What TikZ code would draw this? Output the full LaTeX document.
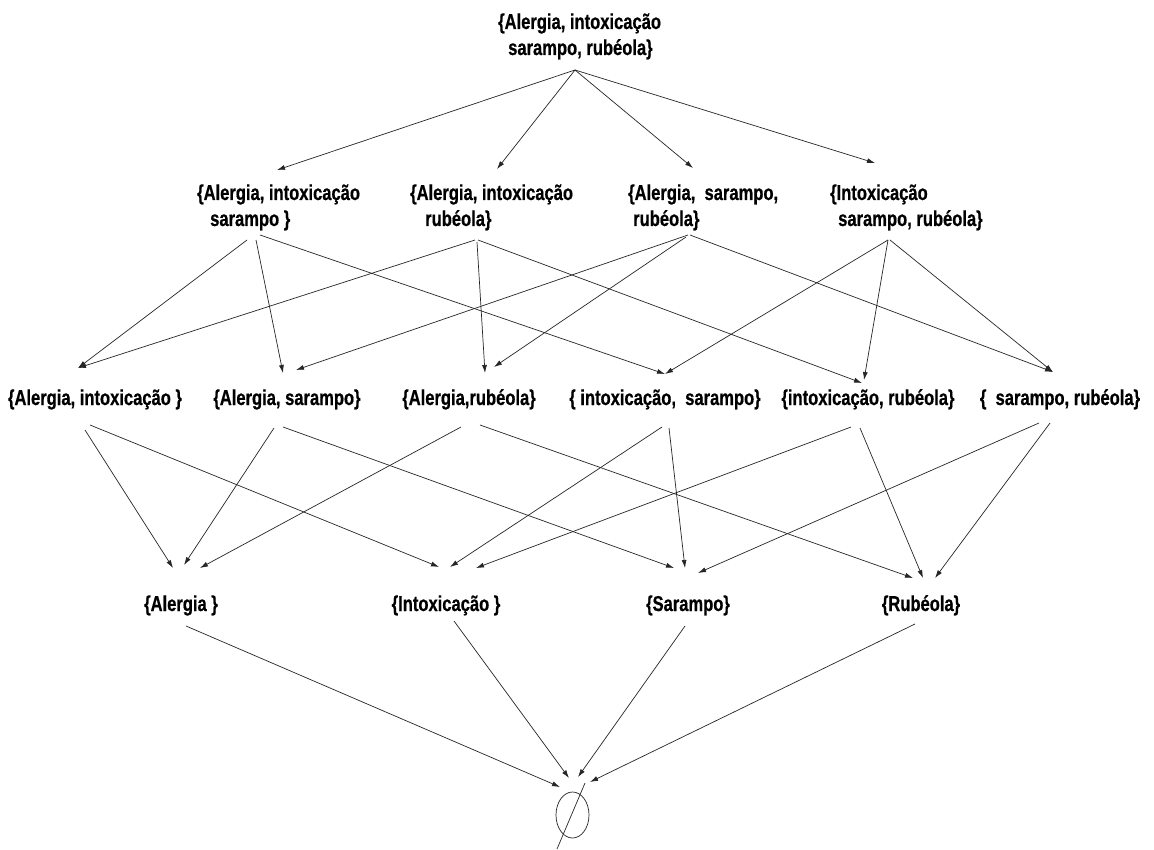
\documentclass[tikz,border=0pt]{standalone}
\usepackage{fontspec}
\setmainfont{Liberation Sans}[FakeStretch=0.77, FakeBold=0.6]
\usetikzlibrary{arrows.meta,shapes.geometric}
% two-line set label: first line, indent of the second line, second line
\newcommand\twoline[3]{\vtop{\hbox{#1}\hbox{\hspace*{#2}#3}}}
\begin{document}
\begin{tikzpicture}[x=1pt,y=-1pt,
  set/.style={inner sep=0pt, font=\fontsize{21.5}{26}\selectfont\bfseries},
  arr/.style={-{Latex[length=8pt,width=5pt]}, line width=0.7pt, draw=black!85},
  thin line/.style={line width=0.7pt, draw=black!85},
]
\fill[white] (0,0) rectangle (1154,850);
\useasboundingbox (0,0) rectangle (1154,850);

% full set
\node[set, anchor=base west] (T) at (498,29)
  {\twoline{\{Alergia, intoxicação}{10pt}{sarampo, rubéola\}}};

% three-element subsets
\node[set, anchor=base west] (AIS) at (197,200)
  {\twoline{\{Alergia, intoxicação}{13pt}{sarampo \}}};
\node[set, anchor=base west] (AIR) at (410,200)
  {\twoline{\{Alergia, intoxicação}{15pt}{rubéola\}}};
\node[set, anchor=base west] (ASR) at (628,200)
  {\twoline{\{Alergia,\ \ sarampo,}{5pt}{rubéola\}}};
\node[set, anchor=base west] (ISR) at (830,200)
  {\twoline{\{Intoxicação}{8pt}{sarampo, rubéola\}}};

% two-element subsets
\node[set, anchor=base] (AI) at (95,405)   {\{Alergia, intoxicação \}};
\node[set, anchor=base] (AS) at (287,405)  {\{Alergia, sarampo\}};
\node[set, anchor=base] (AR) at (469,405)  {\{Alergia,rubéola\}};
\node[set, anchor=base] (IS) at (665,405)  {\{ intoxicação,\ \ sarampo\}};
\node[set, anchor=base] (IR) at (868,405)  {\{intoxicação, rubéola\}};
\node[set, anchor=base] (SR) at (1060,405) {\{\ \ sarampo, rubéola\}};

% singletons
\node[set, anchor=base] (A) at (181,611) {\{Alergia \}};
\node[set, anchor=base] (I) at (446,611) {\{Intoxicação \}};
\node[set, anchor=base] (S) at (688,611) {\{Sarampo\}};
\node[set, anchor=base] (R) at (921,611) {\{Rubéola\}};

% empty set symbol
\node[ellipse, thin line, minimum width=33pt, minimum height=46pt, inner sep=0pt] (E) at (572.5,815) {};
\draw[thin line] ([shift={(12.5,-32)}]E.center) -- ([shift={(-15.5,34)}]E.center);

% full set -> three-element subsets
\draw[arr] ([shift={(77,41)}]T.base west) -- ([shift={(80,-30)}]AIS.base west);
\draw[arr] ([shift={(77,41)}]T.base west) -- ([shift={(87,-31)}]AIR.base west);
\draw[arr] ([shift={(77,41)}]T.base west) -- ([shift={(65,-32)}]ASR.base west);
\draw[arr] ([shift={(77,41)}]T.base west) -- ([shift={(45,-37)}]ISR.base west);

% three-element -> two-element subsets
\draw[arr] ([shift={(50,40)}]AIS.base west) -- ([shift={(-17,-37)}]AI.base);
\draw[arr] ([shift={(59,40)}]AIS.base west) -- ([shift={(-4,-32)}]AS.base);
\draw[arr] ([shift={(63,35)}]AIS.base west) -- ([shift={(0,-31)}]IS.base);

\draw[arr] ([shift={(65,40)}]AIR.base west) -- ([shift={(-17,-37)}]AI.base);
\draw[arr] ([shift={(67,42)}]AIR.base west) -- ([shift={(16,-32)}]AR.base);
\draw[arr] ([shift={(68,40)}]AIR.base west) -- ([shift={(-6,-22)}]IR.base);

\draw[arr] ([shift={(60,35)}]ASR.base west) -- ([shift={(9,-35)}]AS.base);
\draw[arr] ([shift={(58,37)}]ASR.base west) -- ([shift={(25,-38)}]AR.base);
\draw[arr] ([shift={(62,35)}]ASR.base west) -- ([shift={(-7,-33)}]SR.base);

\draw[arr] ([shift={(58,40)}]ISR.base west) -- ([shift={(0,-31)}]IS.base);
\draw[arr] ([shift={(58,40)}]ISR.base west) -- ([shift={(-4,-25)}]IR.base);
\draw[arr] ([shift={(60,40)}]ISR.base west) -- ([shift={(-7,-33)}]SR.base);

% two-element subsets -> singletons
\draw[arr] ([shift={(-10,25)}]AI.base) -- ([shift={(-8,-43)}]A.base);
\draw[arr] ([shift={(-5,20)}]AI.base)  -- ([shift={(-7,-44)}]I.base);
\draw[arr] ([shift={(-13,23)}]AS.base) -- ([shift={(3,-46)}]A.base);
\draw[arr] ([shift={(-4,22)}]AS.base)  -- ([shift={(-14,-43)}]S.base);
\draw[arr] ([shift={(-8,22)}]AR.base)  -- ([shift={(19,-43)}]A.base);
\draw[arr] ([shift={(11,20)}]AR.base)  -- ([shift={(-8,-33)}]R.base);
\draw[arr] ([shift={(-3,22)}]IS.base)  -- ([shift={(4,-44)}]I.base);
\draw[arr] ([shift={(4,23)}]IS.base)   -- ([shift={(-3,-43)}]S.base);
\draw[arr] ([shift={(-17,22)}]IR.base) -- ([shift={(30,-43)}]I.base);
\draw[arr] ([shift={(-8,23)}]IR.base)  -- ([shift={(2,-33)}]R.base);
\draw[arr] ([shift={(-21,18)}]SR.base) -- ([shift={(10,-38)}]S.base);
\draw[arr] ([shift={(-10,18)}]SR.base) -- ([shift={(14,-33)}]R.base);

% singletons -> empty set
\draw[arr] ([shift={(5,15)}]A.base)  -- ([shift={(-12.5,-28)}]E.center);
\draw[arr] ([shift={(8,10)}]I.base)  -- ([shift={(-3.5,-37)}]E.center);
\draw[arr] ([shift={(-3,15)}]S.base) -- ([shift={(5.5,-38)}]E.center);
\draw[arr] ([shift={(-6,13)}]R.base) -- ([shift={(17.5,-33)}]E.center);
\end{tikzpicture}
\end{document}
